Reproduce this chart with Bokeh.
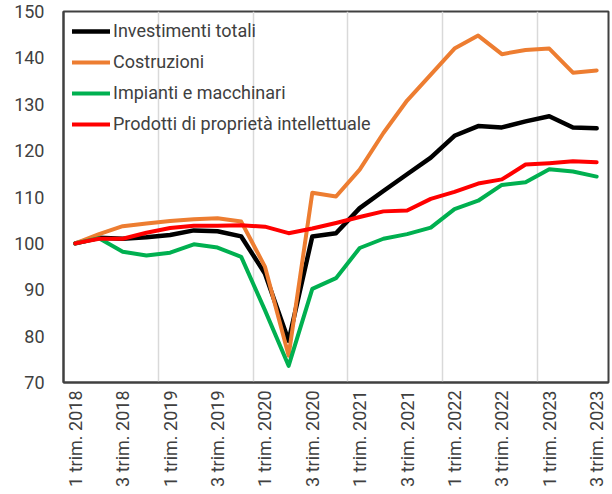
import math
from bokeh.plotting import figure
from bokeh.models import Range1d, FixedTicker, Legend, LegendItem
from bokeh.embed import file_html
from bokeh.resources import INLINE

quarters = [f"{q} trim. {y}" for y in range(2018, 2024) for q in (1, 2, 3, 4)][:23]

investimenti_totali = [100.0, 101.2, 101.0, 101.3, 101.8, 102.8, 102.6, 101.5, 93.5, 79.0,
                       101.5, 102.2, 107.6, 111.3, 114.9, 118.5, 123.2, 125.3, 125.0, 126.3,
                       127.4, 125.0, 124.8]
costruzioni = [100.0, 102.0, 103.7, 104.3, 104.8, 105.2, 105.4, 104.7, 95.0, 75.8,
               110.9, 110.1, 115.9, 123.8, 130.8, 136.4, 142.0, 144.8, 140.8, 141.7,
               142.0, 136.8, 137.3]
impianti_macchinari = [100.0, 101.1, 98.2, 97.4, 98.0, 99.8, 99.1, 97.1, 85.6, 73.6,
                       90.2, 92.5, 99.0, 101.0, 102.0, 103.4, 107.4, 109.2, 112.6, 113.2,
                       116.0, 115.5, 114.4]
prodotti_pi = [100.0, 101.0, 101.0, 102.3, 103.3, 103.8, 103.8, 103.9, 103.6, 102.2,
               103.2, 104.4, 105.7, 106.9, 107.1, 109.6, 111.1, 112.9, 113.8, 117.0,
               117.3, 117.7, 117.5]

series_names = ["Investimenti totali", "Costruzioni", "Impianti e macchinari",
                "Prodotti di proprietà intellettuale"]
series_values = [investimenti_totali, costruzioni, impianti_macchinari, prodotti_pi]
series_colors = ["#000000", "#ED7D31", "#00B050", "#FF0000"]
series_widths = [4.5, 4, 4, 4]

y_ticks = [70, 80, 90, 100, 110, 120, 130, 140, 150]

x = list(range(len(quarters)))

FONT = "Roboto"
TXT = "#404040"

p = figure(width=612, height=494, output_backend="svg", toolbar_location=None,
           x_range=Range1d(-0.5, len(quarters) - 0.5), y_range=Range1d(70, 150),
           min_border_left=63, min_border_right=4, min_border_top=11, min_border_bottom=112)

p.outline_line_color = "#404040"
p.outline_line_width = 2
p.background_fill_color = "white"
p.border_fill_color = "white"

renderers = []
for name, vals, col, w in zip(series_names, series_values, series_colors, series_widths):
    r = p.line(x, vals, line_color=col, line_width=w, line_join="round", line_cap="round")
    renderers.append((name, r))

# axes
p.yaxis.ticker = FixedTicker(ticks=y_ticks)
p.xaxis.ticker = FixedTicker(ticks=x[::2])
p.xaxis.major_label_overrides = {i: quarters[i] for i in x}
p.xaxis.major_label_orientation = math.pi / 2

for ax in (p.xaxis[0], p.yaxis[0]):
    ax.axis_line_color = "#404040"
    ax.axis_line_width = 2
    ax.major_tick_out = 0
    ax.major_tick_in = 0
    ax.minor_tick_out = 0
    ax.minor_tick_in = 0
    ax.major_label_text_font = FONT
    ax.major_label_text_font_size = "18px"
    ax.major_label_text_color = TXT
p.yaxis.major_label_standoff = 19
p.xaxis.major_label_standoff = 8

p.ygrid.grid_line_color = None
p.xgrid.ticker = FixedTicker(ticks=[3.5, 7.5, 11.5, 15.5, 19.5])
p.xgrid.grid_line_color = "#D9D9D9"
p.xgrid.grid_line_width = 1.5

legend = Legend(items=[LegendItem(label=n, renderers=[r]) for n, r in renderers],
                location="top_left", margin=9, padding=0, spacing=10,
                glyph_width=38, glyph_height=20, label_height=20, label_standoff=3,
                label_text_font=FONT, label_text_font_size="18px", label_text_color=TXT,
                border_line_color=None, background_fill_alpha=0)
p.add_layout(legend)

open("out.html", "w").write(file_html(p, INLINE))
